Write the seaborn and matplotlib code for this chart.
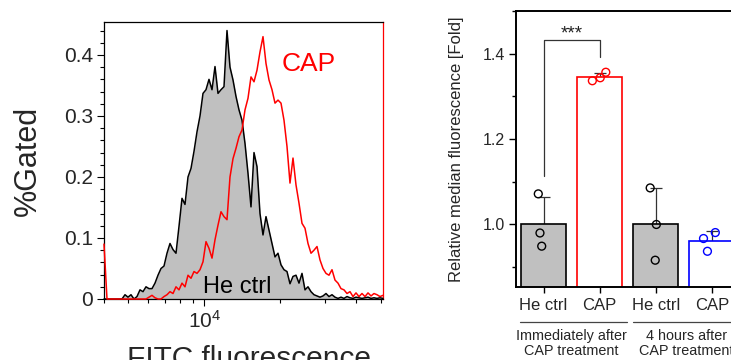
import numpy as np
import pandas as pd
import matplotlib
matplotlib.use("Agg")
import matplotlib.pyplot as plt
import matplotlib.ticker as mticker
import matplotlib.transforms as mtransforms
import seaborn as sns

# ---------------- data: left panel (flow cytometry histogram) ----------------
fitc_limits = [4000, 51000]
he_ctrl_hist = [0, 0, 0, 0, 0, 0, 0,
                .007, .003, .007, 0, .004, .015, .012, .02, .017, .017, .026, .039, .05,
                .054, .075, .091, .081, .075, .119, .165, .155, .2, .214, .242, .274,
                .3, .337, .343, .36, .343, .381, .337, .343, .348, .44, .38, .359, .332,
                .31, .293, .255, .206, .151, .24, .217, .14, .105, .135, .113, .091,
                .069, .075, .056, .048, .045, .025, .037, .039, .026, .042, .015, .02,
                .012, .007, .005, .003, .005, .009, .004, .007, .003, .001,
                .003, .001, .004, .002, .001, .003, .002, .001, .002, .003, .001, .002,
                .001, .002, .001]
cap_hist = [.09, 0, 0, 0, 0, 0, 0, 0, 0, 0, 0, 0, 0, 0, 0,
            .003, .006, .002, 0, 0, .004, .007, .012, .009, .02, .015, .026, .02,
            .039, .034, .045, .042, .048, .061, .094, .083, .067, .097, .121, .143,
            .135, .13, .2, .23, .247, .266, .277, .31, .329, .364, .356, .375, .405,
            .43, .386, .359, .343, .321, .326, .321, .293, .25, .19, .231, .187,
            .157, .124, .116, .091, .075, .08, .086, .064, .05, .042, .039, .048,
            .031, .026, .017, .015, .009, .012, .004, .01, .004, .009, .004, .01,
            .005, .009, .007, .004, .006]
hist_yticks = [0, 0.1, 0.2, 0.3, 0.4]
hist_yticklabels = ["0", "0.1", "0.2", "0.3", "0.4"]

# ---------------- data: right panel (bars + points) ----------------
bar_categories = ["imm_he", "imm_cap", "4h_he", "4h_cap"]
bar_ticklabels = ["He ctrl", "CAP", "He ctrl", "CAP"]
group_labels = ["Immediately after\nCAP treatment", "4 hours after\nCAP treatment"]
imm_he_vals = [1.071, 0.979, 0.948]
imm_cap_vals = [1.337, 1.344, 1.357]
h4_he_vals = [1.085, 0.999, 0.915]
h4_cap_vals = [0.966, 0.980, 0.936]
imm_he_dx = [-0.093, -0.063, -0.032]
imm_cap_dx = [-0.13, 0.01, 0.11]
h4_he_dx = [-0.10, 0.01, -0.01]
h4_cap_dx = [-0.15, 0.06, -0.08]
sig_label = "***"

# ---------------- styling ----------------
sns.set_style("ticks")
plt.rcParams["font.family"] = ["Liberation Sans", "DejaVu Sans"]
plt.rcParams["mathtext.default"] = "regular"

bar_face = {"imm_he": "#c0c0c0", "imm_cap": "white", "4h_he": "#c0c0c0", "4h_cap": "white"}
bar_edge = {"imm_he": "black", "imm_cap": "#ff0000", "4h_he": "black", "4h_cap": "#0000ff"}

fig = plt.figure(figsize=(7.31, 3.60), dpi=100)
W, H = 731, 360

# ====== left panel ======
axL = fig.add_axes([104 / W, 1 - 299 / H, (383 - 104) / W, (299 - 22) / H])
x_bins = np.geomspace(fitc_limits[0], fitc_limits[1], len(he_ctrl_hist))
hist_df = pd.DataFrame({"FITC": np.concatenate([x_bins, x_bins]),
                        "gated": np.concatenate([he_ctrl_hist, cap_hist]),
                        "sample": ["He ctrl"] * len(x_bins) + ["CAP"] * len(x_bins)})
axL.fill_between(x_bins, 0, he_ctrl_hist, color="#c0c0c0", lw=0, zorder=1)
sns.lineplot(data=hist_df[hist_df["sample"] == "He ctrl"], x="FITC", y="gated",
             color="black", lw=1.1, legend=False, ax=axL,
             estimator=None, sort=False, zorder=3)
sns.lineplot(data=hist_df[hist_df["sample"] == "CAP"], x="FITC", y="gated",
             color="#ff0000", lw=1.1, legend=False, ax=axL,
             estimator=None, sort=False, zorder=3.5)
for ln in axL.lines:
    ln.set_clip_on(False)
axL.set_xscale("log")
axL.set_xlim(*fitc_limits)
axL.set_ylim(0, 0.454)
axL.set_yticks(hist_yticks)
axL.set_yticklabels(hist_yticklabels)
axL.yaxis.set_minor_locator(mticker.MultipleLocator(0.02))
axL.xaxis.set_major_locator(mticker.LogLocator(base=10))
axL.xaxis.set_minor_locator(mticker.LogLocator(base=10, subs=np.arange(2, 10)))
axL.xaxis.set_minor_formatter(mticker.NullFormatter())
axL.tick_params(axis="both", which="major", direction="out", length=5, width=0.8,
                labelsize=15, pad=3, color="black")
axL.tick_params(axis="both", which="minor", direction="out", length=3, width=0.8,
                color="black")
for s in axL.spines.values():
    s.set_linewidth(0.9)
    s.set_color("black")
    s.set_zorder(2)
axL.spines["right"].set_color("#ff0000")
axL.set_ylabel("%Gated", fontsize=22)
axL.yaxis.set_label_coords(-0.219, 0.5)
axL.set_xlabel("FITC fluorescence", fontsize=21.5)
axL.xaxis.set_label_coords(0.52, -0.165)
axL.text(0.477, 0.023, "He ctrl", transform=axL.transAxes, fontsize=17,
         ha="center", va="baseline", color="black", zorder=4)
axL.text(0.735, 0.824, "CAP", transform=axL.transAxes, fontsize=19,
         ha="center", va="baseline", color="#ff0000", zorder=4)

# ====== right panel ======
axR = fig.add_axes([516 / W, 1 - 287 / H, (740 - 516) / W, (287 - 11) / H])
pts = pd.DataFrame({
    "cond": (["imm_he"] * 3 + ["imm_cap"] * 3 + ["4h_he"] * 3 + ["4h_cap"] * 3),
    "value": imm_he_vals + imm_cap_vals + h4_he_vals + h4_cap_vals,
    "dx": imm_he_dx + imm_cap_dx + h4_he_dx + h4_cap_dx,
})
pts["pos"] = pts["cond"].map({c: i for i, c in enumerate(bar_categories)}) + pts["dx"]

sns.barplot(data=pts, x="cond", y="value", order=bar_categories, estimator="mean",
            errorbar=None, width=0.8, ax=axR, zorder=2)
for patch, c in zip(axR.patches, bar_categories):
    patch.set_facecolor(bar_face[c])
    patch.set_edgecolor(bar_edge[c])
    patch.set_linewidth(1.2)
    patch.set_zorder(2)

stats = pts.groupby("cond")["value"].agg(["mean", "std"]).reindex(bar_categories)
axR.errorbar(np.arange(len(bar_categories)), stats["mean"],
             yerr=[np.zeros(len(stats)), stats["std"]], fmt="none",
             ecolor="#333333", elinewidth=0.9, capsize=4, capthick=0.9, zorder=1.5)

for c in bar_categories:
    sub = pts[pts["cond"] == c]
    sns.scatterplot(x=sub["pos"].values, y=sub["value"].values, ax=axR, s=32,
                    marker="o", facecolor="none", edgecolor=bar_edge[c],
                    linewidth=1.0, zorder=4, legend=False)

axR.set_xlim(-0.49, 3.5)
axR.set_ylim(0.852, 1.501)
axR.set_xticks(range(len(bar_categories)))
axR.set_xticklabels(bar_ticklabels)
axR.set_yticks([1.0, 1.2, 1.4])
axR.set_yticklabels(["1.0", "1.2", "1.4"])
axR.yaxis.set_minor_locator(mticker.FixedLocator([0.9, 1.1, 1.3, 1.5]))
axR.tick_params(axis="y", which="major", direction="out", length=5, width=1.0,
                labelsize=11.5, pad=3, color="black")
axR.tick_params(axis="y", which="minor", direction="out", length=3, width=1.0,
                color="black")
axR.tick_params(axis="x", which="major", direction="out", length=4, width=1.0,
                labelsize=12, pad=4, color="black")
for s in axR.spines.values():
    s.set_linewidth(1.4)
    s.set_color("black")
axR.set_xlabel("")
axR.set_ylabel("Relative median fluorescence [Fold]", fontsize=12)
axR.yaxis.set_label_coords(-0.234, 0.5)

# significance bracket between the two "immediately after" bars
b0 = stats["mean"].iloc[0] + stats["std"].iloc[0]
b1 = stats["mean"].iloc[1]
top = 1.433
axR.plot([0, 0, 1, 1], [b0 + 0.05, top, top, b1 + 0.047], color="#333333", lw=0.9,
         zorder=3)
axR.text(0.5, top + 0.003, sig_label, ha="center", va="baseline", fontsize=13.5,
         color="#222222")

# group underlines + labels
trans = mtransforms.blended_transform_factory(axR.transData, axR.transAxes)
axR.plot([-0.42, 1.49], [-0.127, -0.127], color="#444444", lw=0.9,
         transform=trans, clip_on=False)
axR.plot([1.6, 3.6], [-0.127, -0.127], color="#444444", lw=0.9,
         transform=trans, clip_on=False)
for gx, lab in zip([0.5, 2.55], group_labels):
    axR.text(gx, -0.152, lab, transform=trans, ha="center", va="top",
             fontsize=10.4, linespacing=1.1, clip_on=False)

fig.savefig("out.png", dpi=100)
